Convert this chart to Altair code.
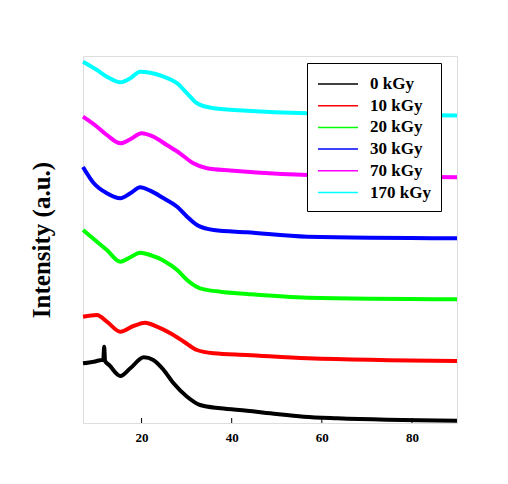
import altair as alt
import pandas as pd

# 2-theta positions (degree) and offset intensities (a.u.)
x_0 = [7.0, 9.4, 11.2, 11.5, 11.7, 11.9, 12.8, 15.3, 17.5, 20.5, 22.6, 24.9, 27.1, 30.1, 33.0, 37.5, 43.4, 48.6, 56.0, 63.4, 90.0]
y_0 = [59.7, 61.3, 63.0, 63.0, 76.3, 62.0, 58.0, 47.0, 54.7, 65.7, 63.0, 53.0, 39.7, 26.3, 18.0, 14.7, 12.3, 9.7, 6.3, 4.7, 2.3]

x_10 = [7.0, 10.1, 12.3, 15.3, 18.2, 20.8, 23.4, 26.4, 29.4, 32.3, 36.0, 43.4, 56.8, 90.0]
y_10 = [106.3, 108.0, 101.3, 91.3, 97.0, 100.3, 96.3, 89.7, 81.3, 73.0, 69.7, 68.0, 64.7, 62.0]

x_20 = [7.0, 10.1, 12.3, 15.3, 17.5, 19.7, 21.9, 24.9, 27.9, 30.1, 33.0, 37.5, 43.4, 56.8, 90.0]
y_20 = [193.0, 181.3, 173.0, 161.3, 165.7, 170.3, 168.0, 162.3, 153.0, 143.0, 134.7, 131.3, 129.0, 125.3, 123.7]

x_30 = [7.0, 9.4, 12.3, 15.3, 17.5, 19.7, 21.9, 24.9, 27.9, 30.1, 32.3, 36.0, 43.4, 56.8, 90.0]
y_30 = [256.0, 239.7, 229.7, 224.7, 229.7, 235.7, 232.3, 224.7, 216.3, 206.3, 198.0, 193.0, 190.7, 186.3, 184.7]

x_70 = [7.0, 10.1, 12.3, 15.3, 17.5, 20.0, 22.6, 25.6, 28.5, 31.5, 34.5, 39.7, 43.4, 56.8, 90.0]
y_70 = [306.3, 296.3, 288.0, 279.7, 283.7, 289.7, 286.3, 278.0, 269.7, 259.7, 254.7, 252.5, 251.3, 248.0, 245.7]

x_170 = [7.0, 10.1, 12.3, 15.3, 17.5, 19.7, 21.9, 24.9, 27.9, 30.1, 32.3, 36.0, 43.4, 56.8, 90.0]
y_170 = [361.3, 353.0, 346.3, 340.7, 344.7, 351.3, 350.3, 346.3, 339.7, 329.7, 319.7, 314.7, 312.3, 309.7, 307.5]

series_names = ["0 kGy", "10 kGy", "20 kGy", "30 kGy", "70 kGy", "170 kGy"]
series_colors = ["#000000", "#ff0000", "#00ff00", "#0000ff", "#ff00ff", "#00ffff"]
x_ticks = [20, 40, 60, 80]

xs = [x_0, x_10, x_20, x_30, x_70, x_170]
ys = [y_0, y_10, y_20, y_30, y_70, y_170]
rows = []
for name, xv, yv in zip(series_names, xs, ys):
    for a, b in zip(xv, yv):
        rows.append({"theta": a, "intensity": b, "dose": name})
df = pd.DataFrame(rows)
ticks_df = pd.DataFrame({"t": x_ticks})

FONT = "Liberation Serif"
W, H = 374, 367

xscale = alt.Scale(domain=[7, 90], nice=False, zero=False)

lines = alt.Chart(df).mark_line(strokeWidth=4, interpolate="monotone").encode(
    x=alt.X("theta:Q", scale=xscale,
            axis=alt.Axis(values=x_ticks, title="2 θ (degree)", grid=False, domain=False,
                          ticks=False, tickSize=0, labelPadding=8, labelFont=FONT,
                          labelFontSize=13, labelFontWeight="bold", labelColor="black",
                          titleFont=FONT, titleFontSize=24, titleFontWeight="bold",
                          titleColor="black", titlePadding=17)),
    y=alt.Y("intensity:Q", scale=alt.Scale(domain=[0, 367], nice=False),
            axis=alt.Axis(labels=False, ticks=False, domain=False, grid=False,
                          title="Intensity (a.u.)", titleFont=FONT, titleFontSize=25,
                          titleFontWeight="bold", titleColor="black", titlePadding=29)),
    color=alt.Color("dose:N", scale=alt.Scale(domain=series_names, range=series_colors),
                    legend=alt.Legend(title=None, orient="none", legendX=224, legendY=7,
                                      symbolType="M-1,0H3", symbolSize=400, symbolStrokeWidth=1.5,
                                      labelFont=FONT, labelFontSize=17, labelFontWeight="bold",
                                      labelColor="black", labelOffset=31, padding=10,
                                      rowPadding=2.7, strokeColor="black", fillColor="white")),
    order=alt.Order("theta:Q"),
)

tickmarks = alt.Chart(ticks_df).mark_rule(color="black", strokeWidth=1).encode(
    x=alt.X("t:Q", scale=xscale),
    y=alt.value(H),
    y2=alt.value(H - 5),
)

chart = alt.layer(lines, tickmarks).properties(
    width=W, height=H,
    autosize=alt.AutoSizeParams(type="none"),
    padding={"left": 75, "top": 48, "right": 10, "bottom": 30},
).configure_view(stroke="black", strokeWidth=1.2).configure(background="white")

chart.save("out.html", embed_options={"renderer": "svg", "actions": False})
